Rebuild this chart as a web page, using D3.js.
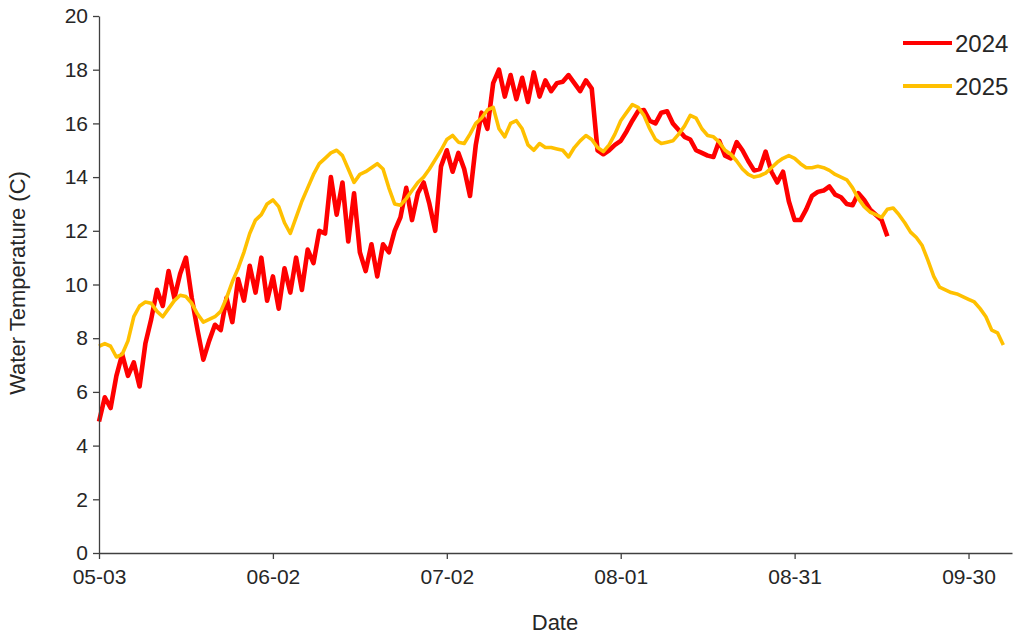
<!DOCTYPE html>
<html>
<head>
<meta charset="utf-8">
<script src="https://d3js.org/d3.v7.min.js"></script>
<style>
  body { margin: 0; background: #fff; }
  svg text { font-family: "Liberation Sans", Arial, sans-serif; fill: #262626; }
  .axis path, .axis line { stroke: #404040; stroke-width: 1.3; }
  .axis text { font-family: "Liberation Sans", Arial, sans-serif; font-size: 21px; fill: #262626; }
</style>
</head>
<body>
<script>
// first day of both series, and the x tick labels (month-day)
var startDay = "2025-05-03";
var xTickLabels = ["05-03", "06-02", "07-02", "08-01", "08-31", "09-30"];
var yTicks = [0, 2, 4, 6, 8, 10, 12, 14, 16, 18, 20];
var seriesNames = ["2024", "2025"];
var seriesColors = ["#ff0000", "#ffc000"];

// daily water temperature (C), one value per day from 05-03
var temp2024 = [
  4.9, 5.8, 5.4, 6.6, 7.4, 6.6, 7.1, 6.2, 7.8, 8.7,
  9.8, 9.2, 10.5, 9.5, 10.4, 11.0, 9.5, 8.3, 7.2, 7.9,
  8.5, 8.3, 9.5, 8.6, 10.2, 9.4, 10.7, 9.7, 11.0, 9.4,
  10.3, 9.1, 10.6, 9.7, 11.0, 9.8, 11.3, 10.8, 12.0, 11.9,
  14.0, 12.6, 13.8, 11.6, 13.4, 11.2, 10.5, 11.5, 10.3, 11.5,
  11.2, 12.0, 12.5, 13.6, 12.4, 13.4, 13.8, 13.0, 12.0, 14.4,
  15.0, 14.2, 14.9, 14.3, 13.3, 15.2, 16.4, 15.8, 17.5, 18.0,
  17.0, 17.8, 16.9, 17.7, 16.8, 17.9, 17.0, 17.6, 17.2, 17.5,
  17.55, 17.8, 17.5, 17.2, 17.6, 17.3, 15.0, 14.85, 15.0, 15.2,
  15.35, 15.7, 16.1, 16.45, 16.5, 16.1, 16.0, 16.4, 16.45, 16.0,
  15.75, 15.5, 15.4, 15.0, 14.9, 14.8, 14.75, 15.35, 14.8, 14.7,
  15.3, 15.0, 14.6, 14.25, 14.3, 14.95, 14.2, 13.8, 14.2, 13.1,
  12.4, 12.4, 12.8, 13.3, 13.45, 13.5, 13.65, 13.35, 13.25, 13.0,
  12.95, 13.4, 13.15, 12.8, 12.6, 12.4, 11.8
];
var temp2025 = [
  7.7, 7.8, 7.7, 7.3, 7.4, 7.9, 8.8, 9.2, 9.35, 9.3,
  9.0, 8.8, 9.1, 9.4, 9.6, 9.55, 9.3, 8.9, 8.6, 8.7,
  8.8, 9.0, 9.5, 10.1, 10.6, 11.2, 11.9, 12.4, 12.6, 13.0,
  13.15, 12.9, 12.3, 11.9, 12.5, 13.1, 13.6, 14.1, 14.5, 14.7,
  14.9, 15.0, 14.8, 14.3, 13.8, 14.1, 14.2, 14.35, 14.5, 14.3,
  13.6, 13.0, 12.95, 13.2, 13.5, 13.8, 14.0, 14.3, 14.65, 15.0,
  15.4, 15.55, 15.3, 15.25, 15.6, 16.0, 16.2, 16.5, 16.6, 15.8,
  15.5, 16.0, 16.1, 15.8, 15.2, 15.0, 15.25, 15.1, 15.1, 15.05,
  15.0, 14.75, 15.1, 15.35, 15.55, 15.4, 15.1, 14.95, 15.2, 15.6,
  16.1, 16.4, 16.7, 16.6, 16.3, 15.8, 15.4, 15.25, 15.3, 15.35,
  15.6, 15.9, 16.3, 16.2, 15.8, 15.55, 15.5, 15.3, 15.0, 14.85,
  14.6, 14.3, 14.1, 14.0, 14.05, 14.15, 14.35, 14.55, 14.7, 14.8,
  14.7, 14.5, 14.35, 14.35, 14.4, 14.35, 14.25, 14.1, 14.0, 13.9,
  13.6, 13.2, 12.9, 12.7, 12.6, 12.5, 12.8, 12.85, 12.6, 12.3,
  11.95, 11.75, 11.45, 10.9, 10.3, 9.9, 9.8, 9.7, 9.65, 9.55,
  9.45, 9.35, 9.1, 8.8, 8.3, 8.2, 7.75
];

var w = 1016, h = 636;
var mLeft = 99, mRight = 1012, mTop = 16, mBottom = 553;

var parse = d3.utcParse("%Y-%m-%d");
var t0 = parse(startDay);
function dayToDate(i) { return d3.utcDay.offset(t0, i); }
function labelToDate(s) { return parse("2025-" + s); }

var svg = d3.select("body").append("svg")
  .attr("width", w)
  .attr("height", h);

var x = d3.scaleUtc()
  .domain([t0, new Date(t0.getTime() + 157.5 * 864e5)])
  .range([mLeft, mRight]);

var y = d3.scaleLinear()
  .domain([0, 20])
  .range([mBottom, mTop]);

// lines
var line = d3.line()
  .x(function(d, i) { return x(dayToDate(i)); })
  .y(function(d) { return y(d); });

[temp2024, temp2025].forEach(function(s, k) {
  svg.append("path")
    .datum(s)
    .attr("fill", "none")
    .attr("stroke", seriesColors[k])
    .attr("stroke-width", k == 0 ? 4.6 : 3.6)
    .attr("stroke-linejoin", "round")
    .attr("d", line);
});

// axes
var xAxis = d3.axisBottom(x)
  .tickValues(xTickLabels.map(labelToDate))
  .tickFormat(d3.utcFormat("%m-%d"))
  .tickSize(6)
  .tickSizeOuter(0)
  .tickPadding(10);

svg.append("g")
  .attr("class", "x axis")
  .attr("transform", "translate(0," + mBottom + ")")
  .call(xAxis);

var yAxis = d3.axisLeft(y)
  .tickValues(yTicks)
  .tickSize(6)
  .tickSizeOuter(0)
  .tickPadding(5);

svg.append("g")
  .attr("class", "y axis")
  .attr("transform", "translate(" + mLeft + ",0)")
  .call(yAxis);

// axis titles
svg.append("text")
  .attr("x", 555)
  .attr("y", 630)
  .attr("text-anchor", "middle")
  .style("font-size", "22px")
  .text("Date");

svg.append("text")
  .attr("transform", "translate(25," + 283 + ") rotate(-90)")
  .attr("text-anchor", "middle")
  .style("font-size", "22px")
  .text("Water Temperature (C)");

// legend
seriesNames.forEach(function(n, k) {
  var ly = 43 + k * 43;
  svg.append("line")
    .attr("x1", 903).attr("x2", 952)
    .attr("y1", ly).attr("y2", ly)
    .attr("stroke", seriesColors[k])
    .attr("stroke-width", 4);
  svg.append("text")
    .attr("x", 955)
    .attr("y", ly)
    .attr("dy", "0.36em")
    .style("font-size", "24px")
    .text(n);
});
</script>
</body>
</html>
